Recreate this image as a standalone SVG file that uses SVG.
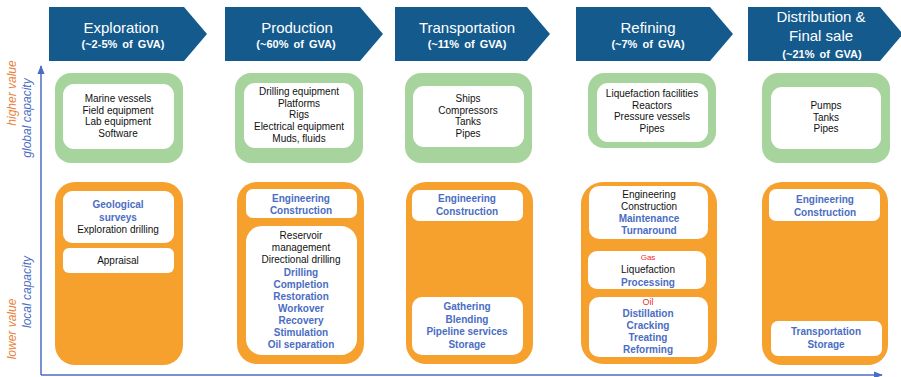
<svg xmlns="http://www.w3.org/2000/svg" width="901" height="377" viewBox="0 0 901 377">
<defs>
<style>
.hdr{fill:#145A8D}
.ht{font-family:"Liberation Sans",Arial,sans-serif;font-size:15px;fill:#fff;text-anchor:middle}
.hg{font-family:"Liberation Sans",Arial,sans-serif;font-size:11px;font-weight:bold;fill:#fff;text-anchor:middle;word-spacing:2px}
.gr{fill:#A6D49C}
.or{fill:#F6A02E}
.wb{fill:#fff}
.t{font-family:"Liberation Sans",Arial,sans-serif;font-size:10px;fill:#111;text-anchor:middle}
.b{font-family:"Liberation Sans",Arial,sans-serif;font-size:10px;font-weight:bold;fill:#4A6DC3;text-anchor:middle}
.r{font-family:"Liberation Sans",Arial,sans-serif;font-size:9px;fill:#F02C2C;text-anchor:middle}
.ax{stroke:#4A6DC3;stroke-width:1.5;fill:none}
.lo{font-family:"Liberation Sans",Arial,sans-serif;font-size:12px;font-style:italic;fill:#E8823A;text-anchor:middle}
.lb{font-family:"Liberation Sans",Arial,sans-serif;font-size:12px;font-style:italic;fill:#4A6DC3;text-anchor:middle}
</style>
<marker id="ah" viewBox="0 0 10 10" refX="9" refY="5" markerWidth="6" markerHeight="6" orient="auto-start-reverse">
<path d="M0,1 L10,5 L0,9 Z" fill="#4A6DC3"/>
</marker>
</defs>
<rect width="901" height="377" fill="#fff"/>

<g id="connectors">
<path class="ax" d="M41,375 L41,66" marker-end="url(#ah)"/>
<path class="ax" d="M41,375 L882,375" marker-end="url(#ah)"/>
</g>

<g id="axis-labels">
<text class="lo" transform="translate(16,93) rotate(-90)">higher value</text>
<text class="lb" transform="translate(31,118) rotate(-90)">global capacity</text>
<text class="lo" transform="translate(16,329) rotate(-90)">lower value</text>
<text class="lb" transform="translate(31,292) rotate(-90)">local capacity</text>
</g>

<g id="hdr-exploration">
<polygon class="hdr" points="49,7 184,7 207,34 184,61 49,61"/>
<text class="ht" x="121" y="33">Exploration</text>
<text class="hg" x="123" y="48">(~2-5% of GVA)</text>
</g>
<g id="hdr-production">
<polygon class="hdr" points="225,7 360,7 383,34 360,61 225,61"/>
<text class="ht" x="297" y="33">Production</text>
<text class="hg" x="296" y="48">(~60% of GVA)</text>
</g>
<g id="hdr-transportation">
<polygon class="hdr" points="395,7 527,7 550,34 527,61 395,61"/>
<text class="ht" x="467" y="33">Transportation</text>
<text class="hg" x="467" y="48">(~11% of GVA)</text>
</g>
<g id="hdr-refining">
<polygon class="hdr" points="576,7 710,7 733,34 710,61 576,61"/>
<text class="ht" x="648" y="33">Refining</text>
<text class="hg" x="648" y="48">(~7% of GVA)</text>
</g>
<g id="hdr-distribution">
<polygon class="hdr" points="748,7 880,7 903,34 880,61 748,61"/>
<text class="ht" x="821" y="22">Distribution &amp;</text>
<text class="ht" x="821" y="41">Final sale</text>
<text class="hg" x="822" y="58">(~21% of GVA)</text>
</g>

<g id="global-exploration">
<rect class="gr" x="55" y="73" width="128" height="90" rx="16"/>
<rect class="wb" x="63" y="84" width="111" height="65" rx="11"/>
<text class="t" x="118" y="102">Marine vessels</text>
<text class="t" x="118" y="113.7">Field equipment</text>
<text class="t" x="118" y="125.4">Lab equipment</text>
<text class="t" x="118" y="137.1">Software</text>
</g>
<g id="global-production">
<rect class="gr" x="235" y="73" width="128" height="90" rx="16"/>
<rect class="wb" x="244" y="83" width="110" height="65" rx="11"/>
<text class="t" x="299" y="95">Drilling equipment</text>
<text class="t" x="299" y="106.7">Platforms</text>
<text class="t" x="299" y="118.4">Rigs</text>
<text class="t" x="299" y="130.1">Electrical equipment</text>
<text class="t" x="299" y="141.8">Muds, fluids</text>
</g>
<g id="global-transportation">
<rect class="gr" x="405" y="73" width="127" height="90" rx="16"/>
<rect class="wb" x="413" y="86" width="111" height="61" rx="11"/>
<text class="t" x="468" y="102">Ships</text>
<text class="t" x="468" y="113.7">Compressors</text>
<text class="t" x="468" y="125.4">Tanks</text>
<text class="t" x="468" y="137.1">Pipes</text>
</g>
<g id="global-refining">
<rect class="gr" x="588" y="73" width="128" height="75" rx="16"/>
<rect class="wb" x="597" y="83" width="111" height="59" rx="11"/>
<text class="t" x="652" y="97">Liquefaction facilities</text>
<text class="t" x="652" y="108.7">Reactors</text>
<text class="t" x="652" y="120.4">Pressure vessels</text>
<text class="t" x="652" y="132.1">Pipes</text>
</g>
<g id="global-distribution">
<rect class="gr" x="762" y="73" width="128" height="90" rx="16"/>
<rect class="wb" x="771" y="87" width="110" height="62" rx="11"/>
<text class="t" x="826" y="109">Pumps</text>
<text class="t" x="826" y="120.7">Tanks</text>
<text class="t" x="826" y="132.4">Pipes</text>
</g>

<g id="local-exploration">
<rect class="or" x="55" y="182" width="128" height="183" rx="20"/>
<rect class="wb" x="63" y="191" width="111" height="52" rx="9"/>
<text class="b" x="118" y="208">Geological</text>
<text class="b" x="118" y="221">surveys</text>
<text class="t" x="118" y="233">Exploration drilling</text>
<rect class="wb" x="63" y="248" width="111" height="25" rx="6"/>
<text class="t" x="118" y="264">Appraisal</text>
</g>
<g id="local-production">
<rect class="or" x="237" y="182" width="127" height="182" rx="20"/>
<rect class="wb" x="246" y="189" width="111" height="29" rx="7"/>
<text class="b" x="301" y="202">Engineering</text>
<text class="b" x="301" y="214">Construction</text>
<rect class="wb" x="246" y="226" width="111" height="129" rx="16"/>
<text class="t" x="301" y="239">Reservoir</text>
<text class="t" x="301" y="251">management</text>
<text class="t" x="301" y="263">Directional drilling</text>
<text class="b" x="301" y="275.5">Drilling</text>
<text class="b" x="301" y="287.6">Completion</text>
<text class="b" x="301" y="299.7">Restoration</text>
<text class="b" x="301" y="311.8">Workover</text>
<text class="b" x="301" y="323.9">Recovery</text>
<text class="b" x="301" y="336">Stimulation</text>
<text class="b" x="301" y="348.1">Oil separation</text>
</g>
<g id="local-transportation">
<rect class="or" x="406" y="182" width="127" height="182" rx="20"/>
<rect class="wb" x="412" y="190" width="111" height="31" rx="7"/>
<text class="b" x="467" y="202">Engineering</text>
<text class="b" x="467" y="215">Construction</text>
<rect class="wb" x="412" y="297" width="111" height="58" rx="10"/>
<text class="b" x="467" y="310">Gathering</text>
<text class="b" x="467" y="322.5">Blending</text>
<text class="b" x="467" y="335">Pipeline services</text>
<text class="b" x="467" y="347.5">Storage</text>
</g>
<g id="local-refining">
<rect class="or" x="581" y="182" width="136" height="182" rx="22"/>
<rect class="wb" x="589" y="186" width="119" height="53" rx="10"/>
<text class="t" x="649" y="198">Engineering</text>
<text class="t" x="649" y="209.5">Construction</text>
<text class="b" x="649" y="221.5">Maintenance</text>
<text class="b" x="649" y="234">Turnaround</text>
<rect class="wb" x="588" y="251" width="118" height="38" rx="9"/>
<text class="r" x="648" y="260" style="font-size:8px">Gas</text>
<text class="t" x="648" y="273">Liquefaction</text>
<text class="b" x="648" y="286">Processing</text>
<rect class="wb" x="589" y="297" width="119" height="60" rx="10"/>
<text class="r" x="648" y="304.5">Oil</text>
<text class="b" x="648" y="317">Distillation</text>
<text class="b" x="648" y="329">Cracking</text>
<text class="b" x="648" y="341">Treating</text>
<text class="b" x="648" y="353">Reforming</text>
</g>
<g id="local-distribution">
<rect class="or" x="762" y="182" width="126" height="183" rx="20"/>
<rect class="wb" x="769" y="189" width="111" height="32" rx="7"/>
<text class="b" x="825" y="203">Engineering</text>
<text class="b" x="825" y="215.5">Construction</text>
<rect class="wb" x="771" y="321" width="111" height="35" rx="7"/>
<text class="b" x="826" y="335">Transportation</text>
<text class="b" x="826" y="347.5">Storage</text>
</g>
</svg>
